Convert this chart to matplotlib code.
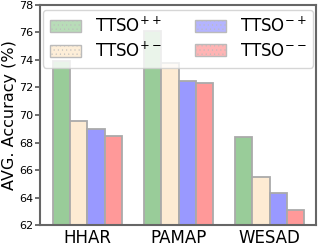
import matplotlib
matplotlib.use("Agg")
import matplotlib.pyplot as plt
import numpy as np
from matplotlib.patches import Patch

datasets = ["HHAR", "PAMAP", "WESAD"]
labels = [r"TTSO$^{++}$", r"TTSO$^{+-}$", r"TTSO$^{-+}$", r"TTSO$^{--}$"]
vals_pp = [73.9, 76.1, 68.4]
vals_pm = [69.6, 73.8, 65.5]
vals_mp = [69.0, 72.5, 64.3]
vals_mm = [68.5, 72.3, 63.1]
yticks = [62, 64, 66, 68, 70, 72, 74, 76, 78]

colors = ["#99cc99", "#fdebd3", "#9999ff", "#ff9999"]
light = ["#b8dcb8", "#fdeed8", "#b4b4ff", "#ffb4b4"]

plt.rcParams["hatch.color"] = "#f0f0f0"
plt.rcParams["hatch.linewidth"] = 0.3

fig = plt.figure(figsize=(3.18, 2.46), dpi=100)
ax = fig.add_axes([0.126, 0.085, 0.868, 0.895])

x = np.arange(len(datasets))
w = 0.19
series = [vals_pp, vals_pm, vals_mp, vals_mm]
for i, s in enumerate(series):
    ax.bar(x + (i - 1.5) * w, s, w, color=colors[i], edgecolor="#aaaaaa",
           linewidth=1.3, zorder=2)

ax.set_ylim(62, 78)
ax.set_xlim(-0.52, 2.51)
ax.set_yticks(yticks)
ax.set_xticks(x)
ax.set_xticklabels(datasets, fontsize=12)
ax.tick_params(axis="y", labelsize=8, length=3.5, width=1.2, color="#555555", pad=1.5)
ax.tick_params(axis="x", length=0, pad=3)
ax.set_ylabel("AVG. Accuracy (%)", fontsize=11.5, labelpad=1)
for sp in ax.spines.values():
    sp.set_color("#666666")
    sp.set_linewidth(1.5)

handles = [Patch(facecolor=light[i], edgecolor="#bbbbbb", hatch="....", linewidth=1.0)
           for i in range(4)]
leg = ax.legend(handles, labels, ncol=2, loc="upper center", fontsize=12,
                handlelength=1.9, handleheight=0.7, handletextpad=0.8,
                columnspacing=2.0, framealpha=0.8, borderaxespad=0.3,
                labelspacing=0.35, borderpad=0.4)
leg.set_zorder(5)

fig.savefig("out.png", dpi=100)
